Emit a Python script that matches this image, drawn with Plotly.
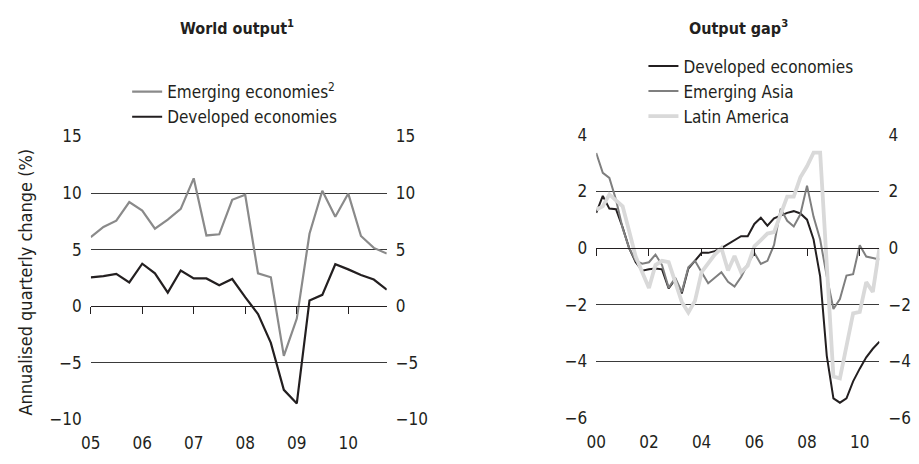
import pandas as pd
import plotly.graph_objects as go

# ---------------- data ----------------
left_quarters = pd.date_range("2005-01-01", periods=24, freq="QS")
emerging_economies = [6.1, 7.0, 7.55, 9.2, 8.45, 6.85, 7.65, 8.6, 11.3, 6.25, 6.35, 9.4,
                      9.85, 2.9, 2.55, -4.4, -1.1, 6.4, 10.2, 7.9, 9.95, 6.2, 5.15, 4.65]
developed_growth = [2.55, 2.65, 2.85, 2.1, 3.75, 2.9, 1.2, 3.15, 2.45, 2.45, 1.85, 2.4,
                    0.8, -0.7, -3.25, -7.4, -8.6, 0.5, 1.0, 3.7, 3.25, 2.75, 2.35, 1.45]

right_quarters = pd.date_range("2000-01-01", periods=44, freq="QS")
developed_gap = [1.24, 1.84, 1.39, 1.37, 0.73, 0.0, -0.5, -0.8, -0.75, -0.72, -0.75, -1.42,
                 -1.1, -1.6, -0.72, -0.45, -0.17, -0.17, -0.11, 0.0, 0.15, 0.28, 0.42, 0.42,
                 0.85, 1.07, 0.79, 1.05, 1.16, 1.24, 1.3, 1.22, 1.0, 0.3, -1.0, -3.8,
                 -5.3, -5.45, -5.3, -4.7, -4.25, -3.85, -3.55, -3.3]
emerging_asia_gap = [3.35, 2.65, 2.47, 1.7, 0.7, 0.0, -0.45, -0.55, -0.5, -0.23, -0.6, -1.4,
                     -1.05, -1.55, -0.68, -0.45, -0.85, -1.24, -1.05, -0.85, -1.19, -1.36, -1.02, -0.56,
                     -0.17, -0.56, -0.45, 0.11, 1.39, 0.96, 0.76, 1.19, 2.2, 1.1, 0.3, -1.0,
                     -2.15, -1.8, -0.97, -0.92, 0.1, -0.3, -0.35, -0.4]
latin_america_gap = [1.36, 1.47, 1.89, 1.7, 1.47, 0.6, -0.3, -0.86, -1.41, -0.6, -0.45, -0.5,
                     -1.2, -1.9, -2.27, -1.86, -0.85, -0.51, -0.23, 0.0, -0.79, -0.28, -0.85, -0.62,
                     0.06, 0.28, 0.51, 0.56, 1.19, 1.81, 1.81, 2.49, 2.88, 3.36, 3.36, -0.6,
                     -4.53, -4.59, -3.4, -2.3, -2.25, -1.2, -1.55, 0.0]

left_yticks = [-10, -5, 0, 5, 10, 15]
right_yticks = [-6, -4, -2, 0, 2, 4]
left_xticks = pd.date_range("2005-01-01", "2010-01-01", freq="YS")
right_xticks = pd.date_range("2000-01-01", "2010-01-01", freq="2YS")

# ---------------- style ----------------
# the page adds an 8 px body margin, so the figure is 16 px smaller than the window
PAGE_OFF = 8
W, H = 919 - 2 * PAGE_OFF, 464 - 2 * PAGE_OFF
FONT = "DejaVu Sans Condensed, Liberation Sans Narrow, Arial Narrow, sans-serif"
FS = 17
BLACK = "#231f20"
GRID = "#3a3a3a"

# plot areas in window pixels
L_x0, L_x1, L_ytop, L_ybot = 82, 383, 132, 428
R_x0, R_x1, R_ytop, R_ybot = 596, 884, 130, 427


def px(x):
    return (x - PAGE_OFF) / W


def py(y):
    return 1 - (y - PAGE_OFF) / H


fig = go.Figure()

fig.add_trace(go.Scatter(x=left_quarters, y=emerging_economies, mode="lines",
                         name="Emerging economies<sup>2</sup>",
                         line=dict(color="#8a8a8a", width=2.2), xaxis="x", yaxis="y",
                         legend="legend"))
fig.add_trace(go.Scatter(x=left_quarters, y=developed_growth, mode="lines",
                         name="Developed economies",
                         line=dict(color=BLACK, width=2.2), xaxis="x", yaxis="y",
                         legend="legend"))

fig.add_trace(go.Scatter(x=right_quarters, y=developed_gap, mode="lines",
                         name="Developed economies",
                         line=dict(color=BLACK, width=2), xaxis="x2", yaxis="y2",
                         legend="legend2"))
fig.add_trace(go.Scatter(x=right_quarters, y=emerging_asia_gap, mode="lines",
                         name="Emerging Asia",
                         line=dict(color="#7f7f7f", width=2), xaxis="x2", yaxis="y2",
                         legend="legend2"))
fig.add_trace(go.Scatter(x=right_quarters, y=latin_america_gap, mode="lines",
                         name="Latin America",
                         line=dict(color="#d9d9d9", width=3.8), xaxis="x2", yaxis="y2",
                         legend="legend2"))

# invisible carriers so the mirrored value axes and the zero-line tick axes get drawn
for xa, ya, xs, ys in [("x", "y3", left_quarters, developed_growth),
                       ("x3", "y", left_quarters, developed_growth),
                       ("x2", "y4", right_quarters, developed_gap),
                       ("x4", "y2", right_quarters, developed_gap)]:
    fig.add_trace(go.Scatter(x=xs, y=ys, mode="lines", xaxis=xa, yaxis=ya,
                             line=dict(color="rgba(0,0,0,0)", width=0),
                             hoverinfo="skip", showlegend=False))

L_range = [left_quarters[0], left_quarters[-1]]
R_range = [right_quarters[0], right_quarters[-1]]
L_dom_x = [px(L_x0), px(L_x1)]
L_dom_y = [py(L_ybot), py(L_ytop)]
R_dom_x = [px(R_x0), px(R_x1)]
R_dom_y = [py(R_ybot), py(R_ytop)]


def zero_pos(dom, rng):
    f = (0 - rng[0]) / (rng[1] - rng[0])
    return dom[0] + f * (dom[1] - dom[0])


tickfont = dict(family=FONT, size=FS, color="#231f20")
yl = dict(range=[left_yticks[0], left_yticks[-1]], tickvals=left_yticks)
yr = dict(range=[right_yticks[0], right_yticks[-1]], tickvals=right_yticks)
common_y = dict(showline=False, zeroline=False, ticks="", tickfont=tickfont,
                ticklabelstandoff=8)
label_x = dict(type="date", tickformat="%y", showgrid=False, zeroline=False,
               showline=False, ticks="", tickfont=tickfont, ticklabelstandoff=12)
tick_x = dict(type="date", showticklabels=False, showgrid=False, zeroline=False,
              showline=True, linecolor=BLACK, linewidth=1.3,
              ticks="outside", ticklen=7, tickwidth=1.3, tickcolor=BLACK)
legend_style = dict(xanchor="left", yanchor="top", bgcolor="rgba(0,0,0,0)",
                    font=dict(family=FONT, size=17, color="#231f20"),
                    itemwidth=30, tracegroupgap=0, traceorder="normal", borderwidth=0)

fig.update_layout(
    width=W, height=H, autosize=False,
    margin=dict(l=0, r=0, t=0, b=0, pad=0),
    paper_bgcolor="white", plot_bgcolor="rgba(0,0,0,0)",
    font=dict(family=FONT, size=FS, color="#231f20"),
    hovermode=False,
    xaxis=dict(domain=L_dom_x, anchor="y", range=L_range, tickvals=left_xticks, **label_x),
    yaxis=dict(domain=L_dom_y, anchor="x", showgrid=True, gridcolor=GRID, gridwidth=1,
               **yl, **common_y),
    yaxis3=dict(overlaying="y", side="right", anchor="x", showgrid=False, **yl, **common_y),
    xaxis3=dict(overlaying="x", anchor="free", position=zero_pos(L_dom_y, yl["range"]),
                range=L_range, tickvals=left_xticks, **tick_x),
    xaxis2=dict(domain=R_dom_x, anchor="y2", range=R_range, tickvals=right_xticks, **label_x),
    yaxis2=dict(domain=R_dom_y, anchor="x2", showgrid=True, gridcolor=GRID, gridwidth=1,
                **yr, **common_y),
    yaxis4=dict(overlaying="y2", side="right", anchor="x2", showgrid=False, **yr, **common_y),
    xaxis4=dict(overlaying="x2", anchor="free", position=zero_pos(R_dom_y, yr["range"]),
                range=R_range, tickvals=right_xticks, **tick_x),
    legend=dict(x=px(119), y=py(66.7), **legend_style),
    legend2=dict(x=px(644), y=py(39.8), **legend_style),
    showlegend=True,
)

fig.add_annotation(text="<b>World output<sup>1</sup></b>", x=px(231), y=py(18),
                   xanchor="center", yanchor="middle",
                   xref="paper", yref="paper", showarrow=False,
                   font=dict(family=FONT, size=16, color="#231f20"))
fig.add_annotation(text="<b>Output gap<sup>3</sup></b>", x=px(741), y=py(18),
                   xanchor="center", yanchor="middle",
                   xref="paper", yref="paper", showarrow=False,
                   font=dict(family=FONT, size=16, color="#231f20"))
fig.add_annotation(text="Annualised quarterly change (%)", x=px(16), y=py(284),
                   xanchor="center", yanchor="middle",
                   xref="paper", yref="paper", showarrow=False, textangle=-90,
                   font=dict(family=FONT, size=18, color="#231f20"))

fig.write_html("out.html", config={"displayModeBar": False})
